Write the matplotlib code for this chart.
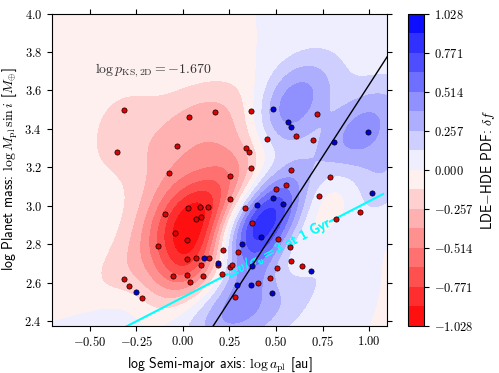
import numpy as np
import matplotlib
matplotlib.use("Agg")
import matplotlib.pyplot as plt
import matplotlib.patheffects as pe
from matplotlib.ticker import FuncFormatter

# HDE (red) and LDE (blue) planets: log a [au], log M sin i [M_earth]
hde_loga = [-0.317, 0.034, 0.170, -0.353, -0.032, -0.077, 0.254, 0.254, 0.027, 0.091,
            0.133, -0.098, 0.070, 0.097, -0.043, 0.020, -0.134, 0.215, 0.297, 0.020,
            0.068, 0.142, 0.098, 0.190, 0.253, 0.262, -0.054, 0.023, 0.109, 0.211,
            0.039, -0.317, -0.290, -0.222, 0.280, 0.367, 0.719, 0.606, 0.452, 0.697,
            0.337, 0.353, 0.367, 0.582, 0.789, 0.498, 0.552, 0.729, 0.333, 0.369,
            0.511, 0.574, 0.579, 0.641, 0.507, 0.402, 0.469, 0.823, 0.952]
hde_logm = [3.497, 3.462, 3.488, 3.281, 3.309, 3.170, 3.155, 3.033, 2.988, 2.992,
            2.993, 2.958, 2.932, 2.941, 2.856, 2.821, 2.792, 2.771, 2.757, 2.722,
            2.726, 2.726, 2.693, 2.691, 2.682, 2.690, 2.635, 2.641, 2.635, 2.646,
            2.604, 2.617, 2.582, 2.519, 2.522, 3.492, 3.478, 3.365, 3.347, 3.341,
            3.301, 3.278, 3.196, 3.186, 3.151, 3.089, 3.108, 3.049, 2.989, 2.911,
            2.825, 2.785, 2.714, 2.684, 2.674, 2.599, 2.625, 2.931, 2.967]
lde_loga = [0.115, 0.188, -0.253, 0.486, 0.565, 0.581, 0.814, 0.993, 0.482, 1.018,
            0.396, 0.536, 0.419, 0.319, 0.690, 0.373, 0.364, 0.290, 0.478]
lde_logm = [2.729, 2.703, 2.552, 3.504, 3.437, 3.408, 3.333, 3.382, 3.040, 3.066,
            3.004, 3.007, 2.837, 2.802, 2.662, 2.684, 2.585, 2.585, 2.545]

DF_MAX = 1.028
N_BANDS = 16
LOG_P_KS = -1.670
# guide lines: log M = slope * log a + intercept
SEP_SLOPE, SEP_ICPT = 1.5, 2.130
DV_SLOPE, DV_ICPT = 0.5, 2.523

XLIM = (-0.705, 1.098)
YLIM = (2.375, 4.0)

plt.rcParams["mathtext.fontset"] = "cm"
plt.rcParams["font.family"] = ["cmss10", "DejaVu Sans"]
plt.rcParams["axes.unicode_minus"] = False


def kde2d(xs, ys, gx, gy, bw_scale=1.0):
    data = np.vstack([xs, ys])
    n = data.shape[1]
    factor = bw_scale * n ** (-1.0 / 6.0)
    cov = np.cov(data) * factor ** 2
    inv = np.linalg.inv(cov)
    norm = 1.0 / (2 * np.pi * np.sqrt(np.linalg.det(cov)) * n)
    pts = np.stack([gx.ravel(), gy.ravel()])
    dens = np.zeros(pts.shape[1])
    for i in range(n):
        d = pts - data[:, i:i + 1]
        dens += np.exp(-0.5 * np.sum(d * (inv @ d), axis=0))
    return (dens * norm).reshape(gx.shape)


gx, gy = np.meshgrid(np.linspace(*XLIM, 240), np.linspace(*YLIM, 240))
delta = kde2d(lde_loga, lde_logm, gx, gy, 0.95) - kde2d(hde_loga, hde_logm, gx, gy)
delta *= 0.999 * DF_MAX / np.abs(delta).max()
levels = np.linspace(-DF_MAX, DF_MAX, N_BANDS + 1)

fig = plt.figure(figsize=(4.99, 3.73), dpi=100)
ax = fig.add_axes([0.1036, 0.1268, 0.6726, 0.8365])
cax = fig.add_axes([0.818, 0.1268, 0.0315, 0.8365])

cf = ax.contourf(gx, gy, delta, levels=levels, cmap="bwr_r", zorder=0)

ax.scatter(hde_loga, hde_logm, s=14, c="#e00000", edgecolors="k", linewidths=0.5, zorder=3)
ax.scatter(lde_loga, lde_logm, s=14, c="#0000d0", edgecolors="k", linewidths=0.5, zorder=3)

xx = np.array(XLIM)
ax.plot(xx, SEP_SLOPE * xx + SEP_ICPT, color="k", lw=1.0, zorder=2)

for x0, x1 in [(-0.4, 0.240), (0.790, 1.075)]:
    seg = np.array([x0, x1])
    ax.plot(seg, DV_SLOPE * seg + DV_ICPT, color="cyan", lw=1.5, zorder=2)
xt = 0.515
ax.text(xt, DV_SLOPE * xt + DV_ICPT, r"$\Delta v/\sigma_v = 3$ at 1 Gyr", color="cyan",
        fontsize=10, ha="center", va="center", rotation=np.degrees(np.arctan(DV_SLOPE)),
        transform_rotates_text=True, rotation_mode="anchor", zorder=1,
        path_effects=[pe.withStroke(linewidth=0.4, foreground="cyan")])

ax.text(-0.473, 3.705, r"$\log p_{\rm KS,2D} = %.3f$" % LOG_P_KS, fontsize=10,
        ha="left", va="center", color="#333333")

ax.set_xlim(*XLIM)
ax.set_ylim(*YLIM)
ax.set_xticks([-0.5, -0.25, 0.0, 0.25, 0.5, 0.75, 1.0])
ax.set_yticks([2.4, 2.6, 2.8, 3.0, 3.2, 3.4, 3.6, 3.8, 4.0])
ax.xaxis.set_major_formatter(FuncFormatter(lambda v, p: r"$%.2f$" % v))
ax.yaxis.set_major_formatter(FuncFormatter(lambda v, p: r"$%.1f$" % v))
ax.tick_params(top=True, right=True, direction="out", labelsize=9)
ax.set_xlabel(r"log Semi-major axis: $\log a_{\rm pl}$ [au]", fontsize=10)
ax.set_ylabel(r"log Planet mass: $\log M_{\rm pl}\,\sin i$ [$M_{\oplus}$]", fontsize=10)

cb = fig.colorbar(cf, cax=cax, ticks=levels[::2])
cb.ax.yaxis.set_major_formatter(FuncFormatter(lambda v, p: r"$%.3f$" % v))
cb.ax.tick_params(labelsize=9)
cb.set_label(r"LDE$-$HDE PDF: $\delta f$", fontsize=10)

fig.savefig("out.png", dpi=100)
